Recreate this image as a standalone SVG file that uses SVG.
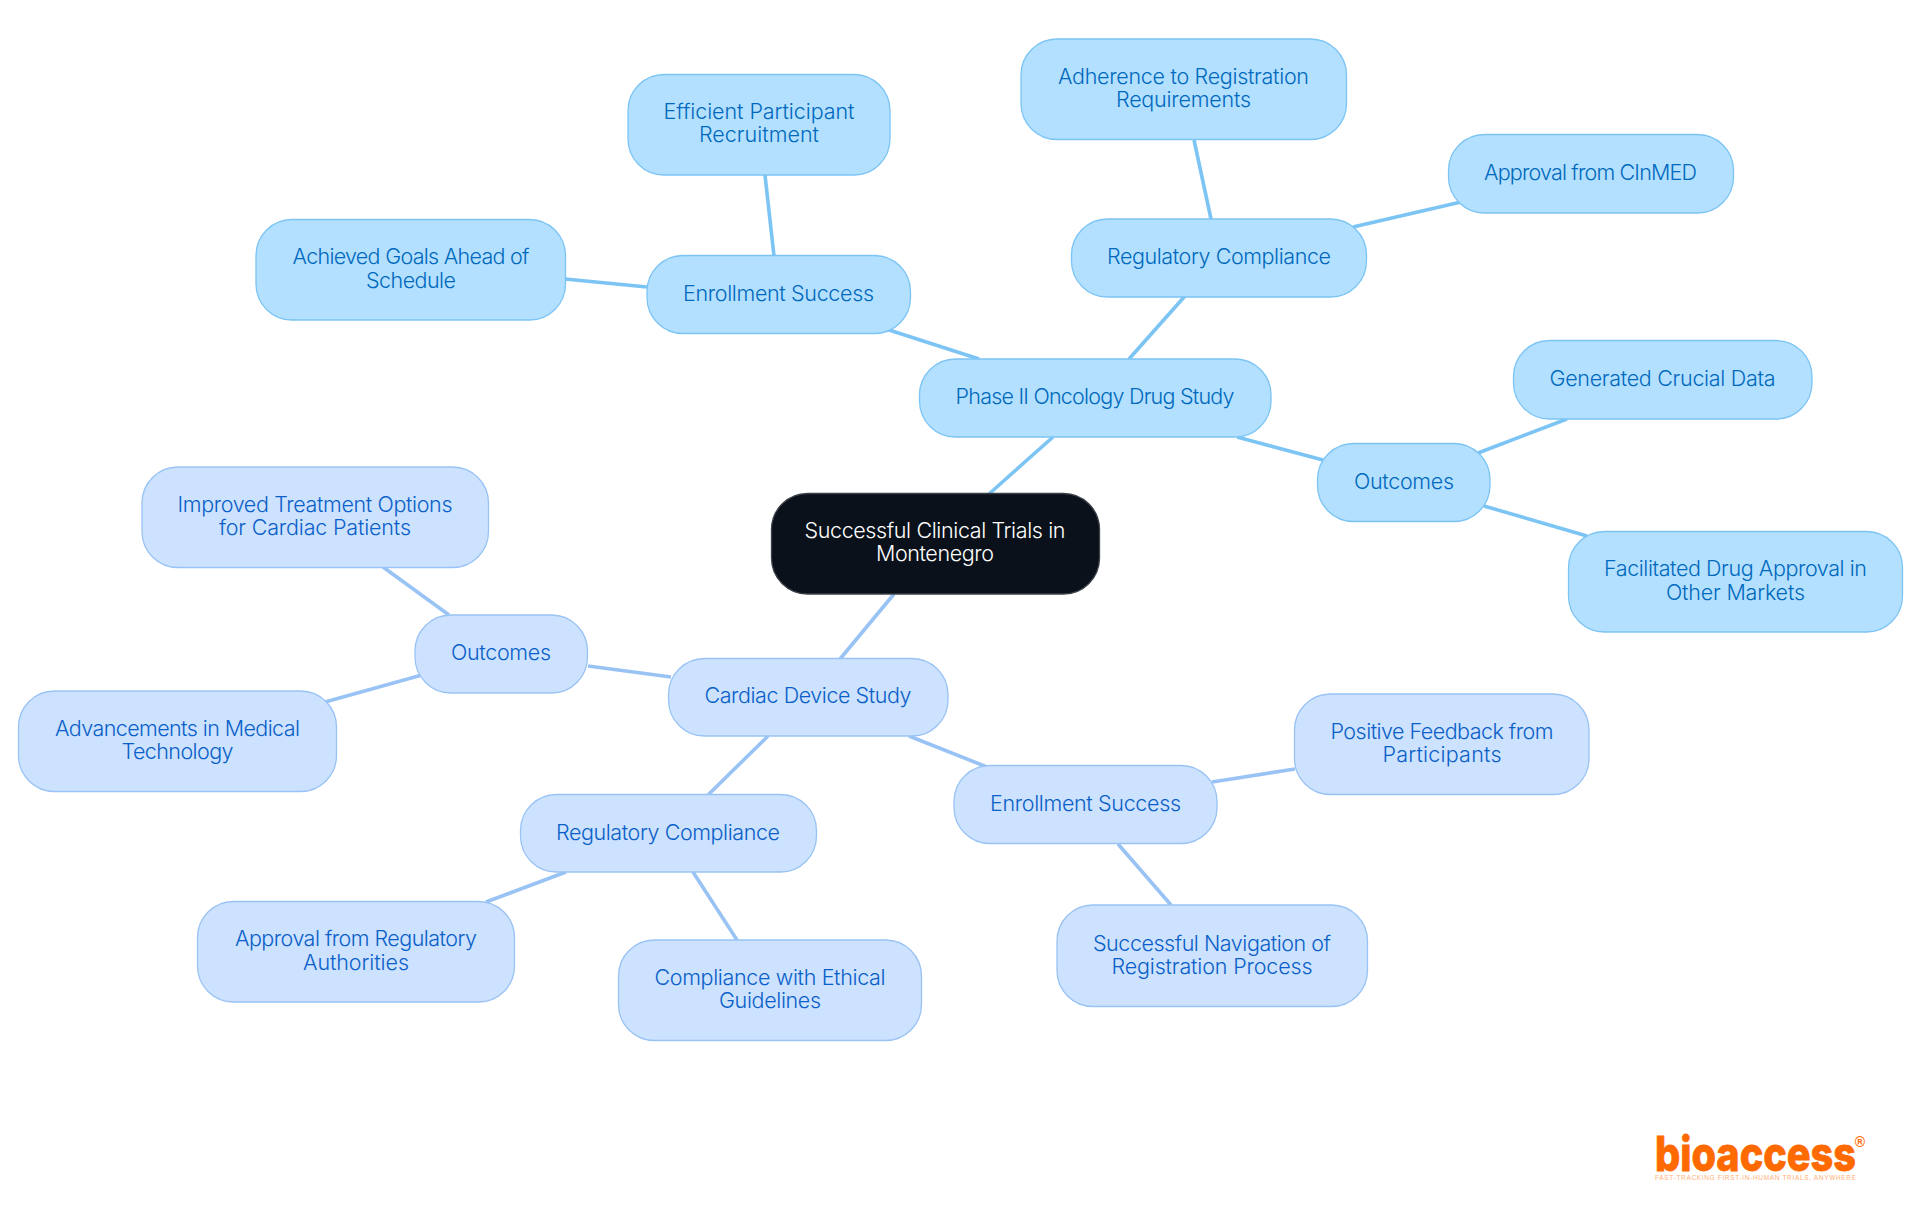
<svg xmlns="http://www.w3.org/2000/svg" width="1920" height="1215" viewBox="0 0 1920 1215">
<style>
text{font-family:"Inter","Noto Sans","Liberation Sans",sans-serif;font-size:21.5px;font-weight:350;text-anchor:middle}
.a rect{fill:#b3e0ff;stroke:#7cc4f4;stroke-width:1.3}
.a text{fill:#0069bd}
.b rect{fill:#cce2ff;stroke:#99c3f4;stroke-width:1.3}
.b text{fill:#0a60c8}
.c rect{fill:#0a111a;stroke:#3a4047;stroke-width:1.3}
.c text{fill:#fff}
#connectors line{stroke-width:3.6;fill:none}
.ea{stroke:#7cc4f4}
.eb{stroke:#99c3f4}
</style>
<rect width="1920" height="1215" fill="#fff"/>
<g id="connectors">
<line class="ea" x1="989" y1="494" x2="1053" y2="437"/>
<line class="eb" x1="894" y1="594" x2="840" y2="659"/>
<line class="ea" x1="886" y1="329" x2="979" y2="359"/>
<line class="ea" x1="1129" y1="359" x2="1185" y2="296"/>
<line class="ea" x1="1237" y1="437" x2="1323" y2="460"/>
<line class="ea" x1="774" y1="256" x2="765" y2="175"/>
<line class="ea" x1="647" y1="287" x2="565" y2="279"/>
<line class="ea" x1="1211" y1="219" x2="1194" y2="140"/>
<line class="ea" x1="1353" y1="227" x2="1461" y2="202"/>
<line class="ea" x1="1478" y1="453" x2="1567" y2="419"/>
<line class="ea" x1="1484" y1="506" x2="1587" y2="536"/>
<line class="eb" x1="671" y1="677" x2="588" y2="666"/>
<line class="eb" x1="909" y1="736" x2="987" y2="767"/>
<line class="eb" x1="768" y1="736" x2="708" y2="795"/>
<line class="eb" x1="449" y1="615" x2="383" y2="567"/>
<line class="eb" x1="422" y1="675" x2="325" y2="702"/>
<line class="eb" x1="1212" y1="782" x2="1295" y2="769"/>
<line class="eb" x1="1118" y1="844" x2="1171" y2="905"/>
<line class="eb" x1="566" y1="872" x2="486" y2="902"/>
<line class="eb" x1="693" y1="872" x2="737" y2="940"/>
</g>
<g id="root" class="c"><rect x="771.5" y="493.5" width="328" height="100.5" rx="36"/><text x="935" y="538" textLength="261">Successful Clinical Trials in</text><text x="935" y="561" textLength="118">Montenegro</text></g>
<g id="phase2" class="a"><rect x="919.5" y="359" width="351.5" height="78" rx="36"/><text x="1095" y="404" textLength="279">Phase II Oncology Drug Study</text></g>
<g id="enroll-a" class="a"><rect x="647" y="255.5" width="263.5" height="78" rx="36"/><text x="778.5" y="301" textLength="191">Enrollment Success</text></g>
<g id="reg-a" class="a"><rect x="1071.5" y="219" width="295" height="78" rx="36"/><text x="1219" y="264" textLength="224">Regulatory Compliance</text></g>
<g id="out-a" class="a"><rect x="1317.5" y="443.5" width="172.5" height="78" rx="36"/><text x="1404" y="489" textLength="100">Outcomes</text></g>
<g id="efficient" class="a"><rect x="628" y="74.5" width="262" height="100.5" rx="36"/><text x="759" y="119" textLength="191">Efficient Participant</text><text x="759" y="142" textLength="120">Recruitment</text></g>
<g id="achieved" class="a"><rect x="256" y="219.5" width="309.5" height="100.5" rx="36"/><text x="411" y="264" textLength="237">Achieved Goals Ahead of</text><text x="411" y="288" textLength="90">Schedule</text></g>
<g id="adherence" class="a"><rect x="1021" y="39" width="325.5" height="100.5" rx="36"/><text x="1183.5" y="84" textLength="251">Adherence to Registration</text><text x="1183.5" y="107" textLength="135">Requirements</text></g>
<g id="cinmed" class="a"><rect x="1448.5" y="134.5" width="285" height="78.5" rx="36"/><text x="1590.5" y="180" textLength="213">Approval from CInMED</text></g>
<g id="generated" class="a"><rect x="1513.5" y="340.5" width="298.5" height="78.5" rx="36"/><text x="1662.5" y="386" textLength="226">Generated Crucial Data</text></g>
<g id="facilitated" class="a"><rect x="1568.5" y="531.5" width="334" height="100.5" rx="36"/><text x="1735.5" y="576" textLength="263">Facilitated Drug Approval in</text><text x="1735.5" y="600" textLength="139">Other Markets</text></g>
<g id="cardiac" class="b"><rect x="668.5" y="658.5" width="279.5" height="77.5" rx="36"/><text x="808" y="703" textLength="207">Cardiac Device Study</text></g>
<g id="out-b" class="b"><rect x="415" y="615" width="172.5" height="78" rx="36"/><text x="501" y="660" textLength="100">Outcomes</text></g>
<g id="enroll-b" class="b"><rect x="954" y="765.5" width="263" height="78" rx="36"/><text x="1085.5" y="811" textLength="191">Enrollment Success</text></g>
<g id="reg-b" class="b"><rect x="520.5" y="794.5" width="296" height="77.5" rx="36"/><text x="668" y="840" textLength="224">Regulatory Compliance</text></g>
<g id="improved" class="b"><rect x="142" y="467" width="346.5" height="100.5" rx="36"/><text x="315" y="512" textLength="275">Improved Treatment Options</text><text x="315" y="535" textLength="192">for Cardiac Patients</text></g>
<g id="advancements" class="b"><rect x="18.5" y="691" width="318" height="100.5" rx="36"/><text x="177.5" y="736" textLength="245">Advancements in Medical</text><text x="177.5" y="759" textLength="112">Technology</text></g>
<g id="positive" class="b"><rect x="1294.5" y="694" width="294.5" height="100.5" rx="36"/><text x="1442" y="739" textLength="223">Positive Feedback from</text><text x="1442" y="762" textLength="119">Participants</text></g>
<g id="navigation" class="b"><rect x="1057" y="905" width="310.5" height="101.5" rx="36"/><text x="1212" y="951" textLength="238">Successful Navigation of</text><text x="1212" y="974" textLength="201">Registration Process</text></g>
<g id="approval-reg" class="b"><rect x="197.5" y="901.5" width="317" height="100.5" rx="36"/><text x="356" y="946" textLength="242">Approval from Regulatory</text><text x="356" y="970" textLength="106">Authorities</text></g>
<g id="compliance" class="b"><rect x="618.5" y="940" width="303" height="100.5" rx="36"/><text x="770" y="985" textLength="231">Compliance with Ethical</text><text x="770" y="1008" textLength="102">Guidelines</text></g>
<g id="logo">
<text x="1755.5" y="1170.5" style="font-size:48px;font-weight:800;fill:#ff6a00;stroke:#ff6a00;stroke-width:.8" textLength="201" lengthAdjust="spacingAndGlyphs">bioaccess</text>
<text x="1860" y="1147" style="font-family:'Liberation Sans',sans-serif;font-size:14px;font-weight:700;fill:#ff6a00">®</text>
<text x="1755.5" y="1180" style="font-family:'Liberation Sans',sans-serif;font-size:6.5px;font-weight:400;fill:#ffb07a" textLength="201">FAST-TRACKING FIRST-IN-HUMAN TRIALS, ANYWHERE</text>
</g>
</svg>
